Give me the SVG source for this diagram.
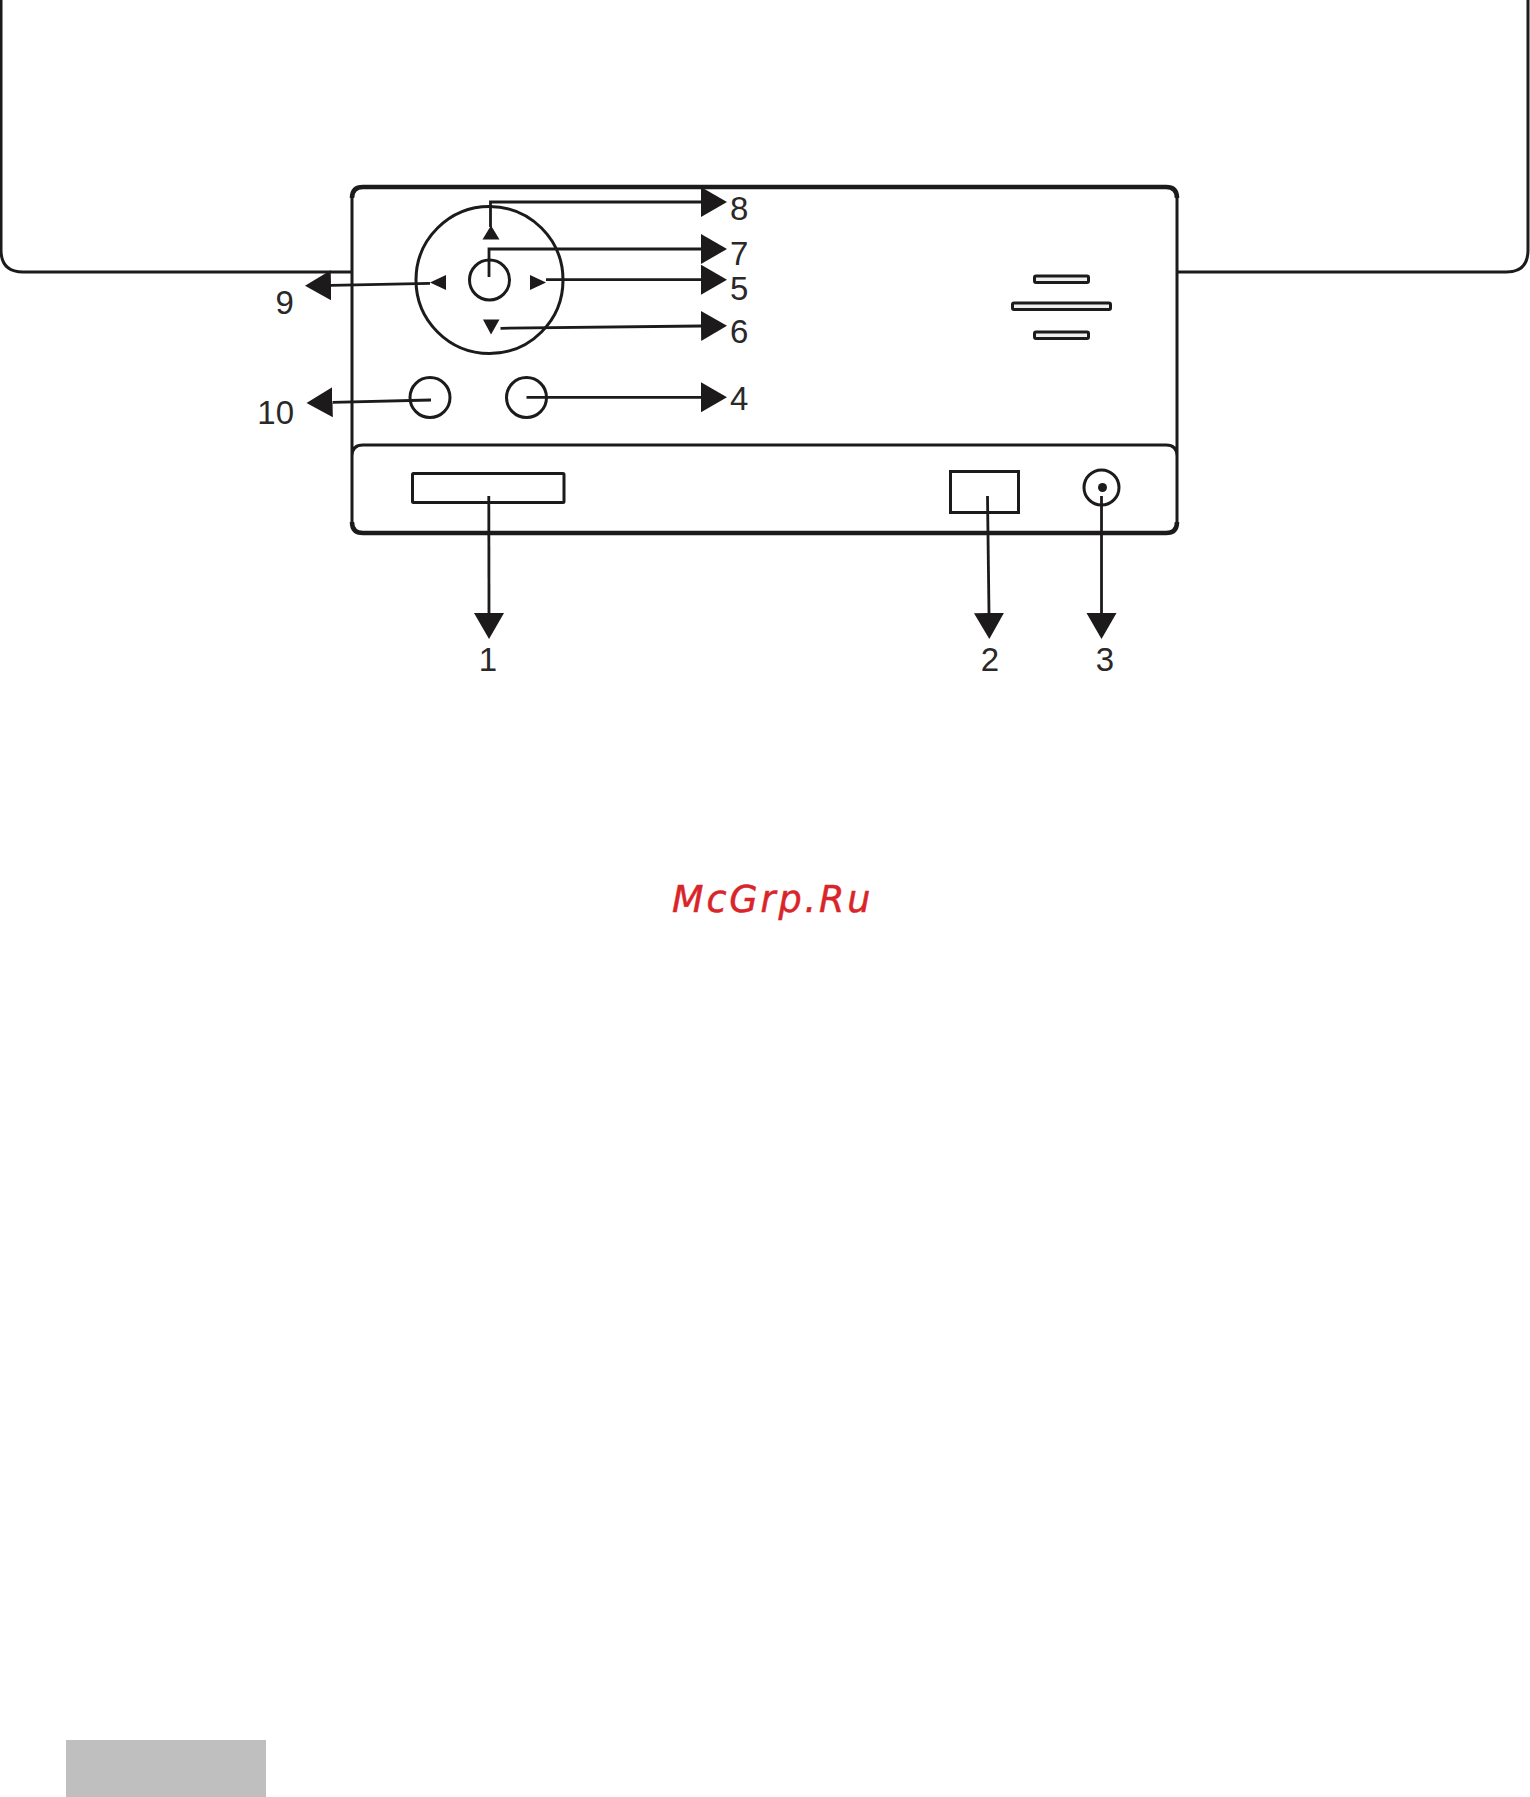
<svg xmlns="http://www.w3.org/2000/svg" width="1530" height="1797" viewBox="0 0 1530 1797">
<style>
.o{fill:none;stroke:#1c1a1a;stroke-width:3}
.h{fill:none;stroke:#1c1a1a;stroke-width:4.500}
.t{fill:#1c1a1a}
.l{fill:none;stroke:#1c1a1a;stroke-width:2.800;marker-end:url(#ah)}
.n{font-family:"Liberation Sans",Arial,sans-serif;font-size:33px;fill:#2a2828}
.s{fill:#eee;stroke:#1c1a1a;stroke-width:3}
</style>
<defs>
<marker id="ah" markerUnits="userSpaceOnUse" markerWidth="28" markerHeight="32" refX="0" refY="15" orient="auto">
<path d="M0,0 L26,15 L0,30 Z" fill="#1c1a1a"/>
</marker>
</defs>
<rect width="1530" height="1797" fill="#fff"/>
<g id="body">
<path class="o" d="M1,0 V250 Q1,272 23,272 H352 M1177,272 H1506 Q1528,272 1528,250 V0"/>
</g>
<g id="panel">
<path class="o" d="M352,198 V522 M1177,198 V522 M352,456 Q352,445 363,445 H1166 Q1177,445 1177,456"/>
<path class="h" d="M352,198 Q352,187 363,187 H1166 Q1177,187 1177,198 M352,522 Q352,533 363,533 H1166 Q1177,533 1177,522"/>
</g>
<g id="joystick">
<circle class="o" cx="489.500" cy="280" r="73.500"/>
<circle class="o" cx="489.500" cy="280" r="20"/>
<path class="t" d="M491,225.500 L482.500,239.500 H499.500 Z"/>
<path class="t" d="M430,282.500 L446,275 V290 Z"/>
<path class="t" d="M546,282.500 L530,275 V290 Z"/>
<path class="t" d="M491,334.500 L483,319.500 H499.500 Z"/>
</g>
<g id="button-left"><circle class="o" cx="430" cy="397.500" r="20"/></g>
<g id="button-right"><circle class="o" cx="526.500" cy="397.500" r="20"/></g>
<g id="speaker">
<rect class="s" x="1034.500" y="276" width="54" height="6.500" rx="1.500"/>
<rect class="s" x="1012.500" y="303" width="98" height="6.500" rx="1.500"/>
<rect class="s" x="1034.500" y="332" width="54" height="6.500" rx="1.500"/>
</g>
<g id="card-slot"><rect class="o" x="412.500" y="473.500" width="151.500" height="29" rx="1"/></g>
<g id="port"><rect class="o" x="950.500" y="471.500" width="68" height="41"/></g>
<g id="jack">
<circle class="o" cx="1101.500" cy="487.500" r="17.500"/>
<circle class="t" cx="1102.500" cy="487.500" r="4.500"/>
</g>
<g id="connectors">
<path class="l" d="M490.500,227 V202 H701"/>
<path class="l" d="M489,277 V249 H701"/>
<path class="l" d="M546,279.700 H701"/>
<path class="l" d="M500.500,328.300 L701,326"/>
<path class="l" d="M526.500,397.300 H701"/>
<path class="l" d="M430,283.300 L331,285.300"/>
<path class="l" d="M431,400 L332.500,402.300"/>
<path class="l" d="M488.800,496 L489,613"/>
<path class="l" d="M987.500,496 L989,613"/>
<path class="l" d="M1101.500,496 L1101.500,613"/>
</g>
<g id="labels">
<text class="n" x="730" y="220">8</text>
<text class="n" x="730" y="265">7</text>
<text class="n" x="730" y="300">5</text>
<text class="n" x="730" y="342.500">6</text>
<text class="n" x="730" y="410">4</text>
<text class="n" x="275.500" y="314">9</text>
<text class="n" x="294" y="424" text-anchor="end">10</text>
<text class="n" x="488" y="671" text-anchor="middle">1</text>
<text class="n" x="990" y="671" text-anchor="middle">2</text>
<text class="n" x="1105" y="671" text-anchor="middle">3</text>
</g>
<text id="watermark" x="672" y="912" font-family="DejaVu Sans,sans-serif" font-style="oblique" font-size="36.500" letter-spacing="2.900" fill="#d9252a" stroke="#d9252a" stroke-width="0.500">McGrp.Ru</text>
<rect id="footer-tab" x="66" y="1740" width="200" height="57" fill="#bfbfbf"/>
</svg>
